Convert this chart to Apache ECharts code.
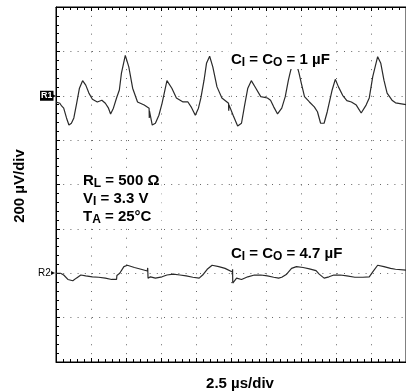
<!DOCTYPE html>
<html>
<head>
<meta charset="utf-8">
<script src="https://cdn.jsdelivr.net/npm/echarts@6/dist/echarts.min.js"></script>
<style>
  html, body { margin: 0; padding: 0; background: #fff; }
  #main { width: 406px; height: 392px; }
</style>
</head>
<body>
<div id="main"></div>
<script>
// scope traces, in graticule divisions: [time div, level div]
// x: 10 div (2.5 us/div), y: 8 div (200 uV/div)
const ch1Trace = [
  [0, 5.86], [0.11, 5.83], [0.16, 5.77], [0.22, 5.72], [0.30, 5.50], [0.37, 5.34], [0.44, 5.38],
  [0.51, 5.50], [0.59, 5.83], [0.67, 6.17], [0.76, 6.34], [0.85, 6.24], [0.94, 6.06], [1.04, 5.92],
  [1.18, 5.86], [1.31, 5.90], [1.41, 5.83], [1.50, 5.72], [1.56, 5.59], [1.64, 5.72], [1.73, 5.95],
  [1.81, 6.13], [1.87, 6.51], [1.98, 6.91], [2.08, 6.65], [2.19, 6.17], [2.33, 5.86], [2.52, 5.79],
  [2.66, 5.72], [2.665, 5.50], [2.67, 5.66], [2.75, 5.34], [2.84, 5.38], [2.94, 5.56], [3.03, 5.83],
  [3.17, 6.34], [3.31, 6.17], [3.44, 5.95], [3.63, 5.86], [3.77, 5.86], [3.86, 5.75], [3.98, 5.56],
  [4.07, 5.72], [4.14, 5.95], [4.23, 6.35], [4.30, 6.73], [4.39, 6.89], [4.48, 6.65], [4.60, 6.20],
  [4.74, 5.95], [4.93, 5.83], [4.935, 5.66], [4.94, 5.80], [5.06, 5.56], [5.19, 5.32], [5.30, 5.38],
  [5.39, 5.79], [5.48, 6.17], [5.58, 6.34], [5.71, 6.17], [5.85, 5.98], [6.04, 5.95], [6.13, 5.90],
  [6.22, 5.75], [6.33, 5.59], [6.45, 5.72], [6.55, 5.98], [6.64, 6.35], [6.69, 6.52], [6.81, 6.89],
  [6.94, 6.52], [7.01, 6.28], [7.10, 5.98], [7.24, 5.86], [7.38, 5.75], [7.47, 5.64], [7.56, 5.38],
  [7.66, 5.38], [7.75, 5.64], [7.89, 6.13], [7.98, 6.37], [8.07, 6.20], [8.19, 6.01], [8.31, 5.89],
  [8.44, 5.86], [8.58, 5.79], [8.72, 5.61], [8.86, 5.79], [8.95, 5.95], [9.05, 6.43], [9.19, 6.88],
  [9.28, 6.73], [9.37, 6.35], [9.46, 6.06], [9.60, 5.90], [9.70, 5.84], [10, 5.80]
];

const ch2Trace = [
  [0, 2.00], [0.13, 2.00], [0.22, 1.96], [0.34, 1.86], [0.48, 1.83], [0.58, 1.89], [0.71, 1.96],
  [0.85, 1.94], [1.04, 1.92], [1.22, 1.91], [1.41, 1.89], [1.59, 1.86], [1.73, 1.86], [1.74, 1.95],
  [1.82, 2.00], [1.94, 2.15], [2.04, 2.18], [2.24, 2.13], [2.43, 2.09], [2.61, 2.05], [2.62, 2.12],
  [2.63, 1.89], [2.70, 1.92], [2.84, 1.89], [3.03, 1.92], [3.17, 1.96], [3.35, 1.98], [3.54, 1.96],
  [3.72, 1.94], [3.91, 1.91], [4.09, 1.89], [4.19, 1.96], [4.32, 2.09], [4.46, 2.18], [4.65, 2.15],
  [4.83, 2.11], [5.04, 2.03], [5.045, 2.09], [5.05, 1.78], [5.16, 1.89], [5.30, 1.86], [5.48, 1.92],
  [5.67, 1.96], [5.85, 1.96], [6.04, 1.94], [6.22, 1.91], [6.36, 1.89], [6.45, 1.91], [6.59, 1.98],
  [6.73, 2.11], [6.87, 2.15], [7.06, 2.13], [7.24, 2.10], [7.43, 2.06], [7.52, 1.98], [7.66, 1.89],
  [7.80, 1.92], [7.94, 1.96], [8.12, 1.96], [8.31, 1.94], [8.54, 1.91], [8.77, 1.91], [8.95, 1.92],
  [9.05, 2.03], [9.19, 2.18], [9.37, 2.15], [9.56, 2.11], [9.70, 2.09], [10, 2.07]
];

const xDivs = 10;
const yDivs = 8;
const ch1Ref = 6;   // R1 marker level
const ch2Ref = 2;   // R2 marker level

const FONT = 'Liberation Sans, Arial, sans-serif';

const chart = echarts.init(document.getElementById('main'), null, { renderer: 'canvas' });

const tickCommon = {
  axisLine: { show: true, lineStyle: { color: '#000', width: 1 } },
  axisTick: { show: true, inside: true, length: 4, lineStyle: { color: '#000' } },
  minorTick: { show: true, splitNumber: 5, length: 3, lineStyle: { color: '#000' } },
  axisLabel: { show: false }
};

const mainText = { fontSize: 15, fontWeight: 'bold', fontFamily: FONT, color: '#000', lineHeight: 18 };
const subText = { fontSize: 12, fontWeight: 'bold', fontFamily: FONT, color: '#000', lineHeight: 12, verticalAlign: 'bottom' };

chart.setOption({
  animation: false,
  backgroundColor: '#fff',
  grid: { left: 56, top: 7, right: -10, bottom: 30, show: true, borderColor: '#000', borderWidth: 1 },
  xAxis: [
    Object.assign({
      type: 'value', min: 0, max: xDivs, interval: 1, position: 'bottom',
      splitLine: { show: true, lineStyle: { color: '#666', width: 1, type: [1, 7.875] } }
    }, tickCommon),
    Object.assign({
      type: 'value', min: 0, max: xDivs, interval: 1, position: 'top',
      splitLine: { show: false }
    }, tickCommon)
  ],
  yAxis: [
    Object.assign({
      type: 'value', min: 0, max: yDivs, interval: 1, position: 'left',
      splitLine: { show: true, lineStyle: { color: '#666', width: 1, type: [1, 6.2] } }
    }, tickCommon)
  ],
  series: [
    {
      type: 'line', data: ch1Trace, showSymbol: false, clip: true,
      lineStyle: { color: '#2a2a2a', width: 1.2 }
    },
    {
      type: 'line', data: ch2Trace, showSymbol: false, clip: true,
      lineStyle: { color: '#2a2a2a', width: 1.2 }
    }
  ]
});

// reference markers on the left edge, placed at their channel levels
const r1y = chart.convertToPixel({ yAxisIndex: 0 }, ch1Ref);
const r2y = chart.convertToPixel({ yAxisIndex: 0 }, ch2Ref);

chart.setOption({
  graphic: [
    {
      id: 'ylab', type: 'text', x: 20, y: 186, rotation: Math.PI / 2, z: 100,
      style: { text: '200 µV/div', font: 'bold 15px ' + FONT, fill: '#000', align: 'center', verticalAlign: 'middle' }
    },
    {
      id: 'xlab', type: 'text', x: 240, y: 384, z: 100,
      style: { text: '2.5 µs/div', font: 'bold 15px ' + FONT, fill: '#000', align: 'center', verticalAlign: 'middle' }
    },
    {
      id: 'c1', type: 'text', x: 229, y: 51, z: 100,
      style: {
        text: '{m|C}{s|I}{m| = C}{s|O}{m| = 1 µF}',
        rich: { m: mainText, s: subText },
        backgroundColor: '#fff', padding: [0, 2, 0, 2], verticalAlign: 'top'
      }
    },
    {
      id: 'cond', type: 'text', x: 81, y: 172, z: 100,
      style: {
        text: '{m|R}{s|L}{m| = 500 Ω}\n{m|V}{s|I}{m| = 3.3 V}\n{m|T}{s|A}{m| = 25°C}',
        rich: { m: mainText, s: subText },
        backgroundColor: '#fff', padding: [0, 2, 0, 2], verticalAlign: 'top'
      }
    },
    {
      id: 'c2', type: 'text', x: 229, y: 245, z: 100,
      style: {
        text: '{m|C}{s|I}{m| = C}{s|O}{m| = 4.7 µF}',
        rich: { m: mainText, s: subText },
        backgroundColor: '#fff', padding: [0, 2, 0, 2], verticalAlign: 'top'
      }
    },
    {
      id: 'r1', type: 'text', x: 40, y: r1y, z: 100,
      style: { text: 'R1', font: 'bold 9px ' + FONT, fill: '#fff', backgroundColor: '#000', padding: [1, 1, 0, 1], verticalAlign: 'middle' }
    },
    {
      id: 'r1a', type: 'text', x: 52, y: r1y, z: 100,
      style: { text: '▸', font: '8px ' + FONT, fill: '#000', verticalAlign: 'middle' }
    },
    {
      id: 'r2', type: 'text', x: 38, y: r2y, z: 100,
      style: { text: 'R2', font: '10px ' + FONT, fill: '#000', verticalAlign: 'middle' }
    },
    {
      id: 'r2a', type: 'text', x: 51, y: r2y, z: 100,
      style: { text: '▸', font: '8px ' + FONT, fill: '#000', verticalAlign: 'middle' }
    }
  ]
});
</script>
</body>
</html>
